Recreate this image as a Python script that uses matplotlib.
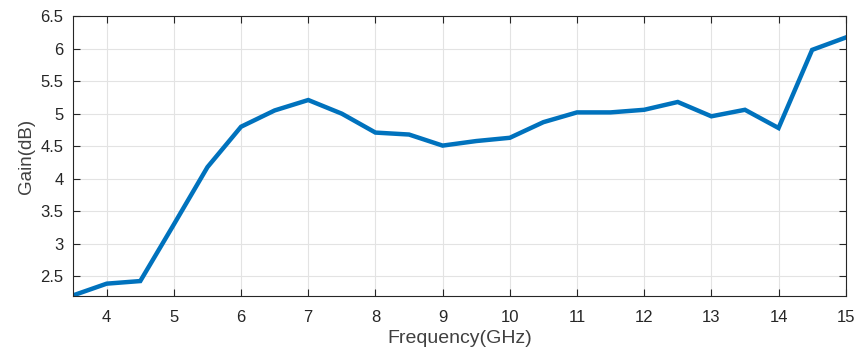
import numpy as np
import matplotlib.pyplot as plt

plt.rcParams['font.family'] = ['Liberation Sans', 'DejaVu Sans']

# gain measured every 0.5 GHz
freq = [3.5, 4, 4.5, 5, 5.5, 6, 6.5, 7, 7.5, 8, 8.5, 9, 9.5, 10, 10.5,
        11, 11.5, 12, 12.5, 13, 13.5, 14, 14.5, 15]
gain = [2.21, 2.39, 2.43, 3.30, 4.18, 4.80, 5.05, 5.21, 5.00, 4.71, 4.68, 4.51, 4.58, 4.63, 4.87,
        5.02, 5.02, 5.06, 5.18, 4.96, 5.06, 4.78, 5.98, 6.17]

xticks = [4, 5, 6, 7, 8, 9, 10, 11, 12, 13, 14, 15]
yticks = [2.5, 3, 3.5, 4, 4.5, 5, 5.5, 6, 6.5]

fig = plt.figure(figsize=(8.56, 3.52), dpi=100)
ax = fig.add_axes([0.0854, 0.159, 0.9026, 0.7955])

ax.plot(freq, gain, color='#0072BD', linewidth=3.2, solid_joinstyle='miter')

ax.set_xlim(3.5, 15)
ax.set_ylim(2.2, 6.5)
ax.set_xticks(xticks)
ax.set_yticks(yticks)
ax.set_yticklabels(['2.5', '3', '3.5', '4', '4.5', '5', '5.5', '6', '6.5'])
ax.grid(True, color='#e3e3e3', linewidth=0.8)
ax.set_axisbelow(True)
ax.tick_params(direction='in', length=5, width=0.8, top=True, right=True,
               labelsize=12, colors='#262626')
ax.tick_params(axis='x', pad=10)
ax.tick_params(axis='y', pad=7)
for s in ax.spines.values():
    s.set_color('#262626')
    s.set_linewidth(0.8)

ax.set_xlabel('Frequency(GHz)', fontsize=14, color='#404040', labelpad=4)
ax.set_ylabel('Gain(dB)', fontsize=13.5, color='#404040', labelpad=4)

fig.savefig('out.png', dpi=100)
